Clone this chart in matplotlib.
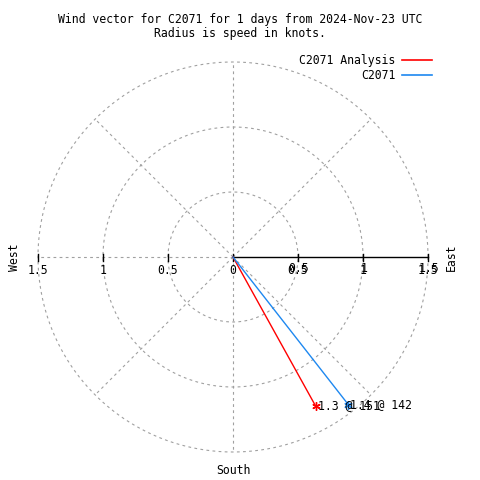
import numpy as np
import matplotlib.pyplot as plt
import matplotlib.transforms as mtransforms
from matplotlib.lines import Line2D

# wind vectors: speed (knots) and direction (deg, clockwise from north)
names = ['C2071 Analysis', 'C2071']
speeds = [1.31, 1.44]
directions = [151, 142]
colors = ['#ff0000', '#1e88f0']
rings = [0.5, 1.0, 1.5]
tick_vals = [0.5, 1.0, 1.5]

plt.rcParams['font.family'] = 'DejaVu Sans Mono'
fs = 8.3

fig = plt.figure(figsize=(4.8, 4.8), dpi=100)
ax = fig.add_axes([0, 0, 1, 1])
scale = 130.0  # pixels per knot
cx, cy = 233, 223
ax.set_xlim(-cx / scale, (480 - cx) / scale)
ax.set_ylim(-cy / scale, (480 - cy) / scale)
ax.axis('off')

grid_kw = dict(color='#a0a0a0', lw=0.8, ls=(0, (2.5, 3)))
t = np.linspace(0, 2 * np.pi, 361)
for r in rings:
    ax.plot(r * np.cos(t), r * np.sin(t), **grid_kw)
rmax = rings[-1]
for a in range(0, 360, 45):
    if a == 90:
        continue
    ar = np.deg2rad(a)
    ax.plot([0, rmax * np.sin(ar)], [0, rmax * np.cos(ar)], **grid_kw)

# east axis (solid) with ticks
ax.plot([0, rmax], [0, 0], color='black', lw=1)
tk = 3.5 / scale
ly = -14 / scale
off = mtransforms.offset_copy(ax.transData, fig=fig, x=1, y=2, units='dots')
ax.plot([0, 0], [-tk, tk], color='black', lw=1)
ax.text(0, ly, '0', ha='center', va='center', fontsize=fs)
for v in tick_vals:
    ax.plot([v, v], [-tk, tk], color='black', lw=1)
    ax.plot([-v, -v], [-tk, tk], color='black', lw=1)
    lab = f'{v:g}'
    ax.text(-v, ly, lab, ha='center', va='center', fontsize=fs)
    ax.text(v, ly, lab, ha='center', va='center', fontsize=fs)
    ax.text(v, ly, lab, ha='center', va='center', fontsize=fs, transform=off)

# compass labels
ax.text(-(cx - 14) / scale, 0, 'West', rotation=90, ha='center', va='center', fontsize=fs)
ax.text(218 / scale, 0, 'East', rotation=90, ha='center', va='center', fontsize=fs)
ax.text(0, -213 / scale, 'South', ha='center', va='center', fontsize=fs)

# wind vectors
handles = []
for name, s, d, c in zip(names, speeds, directions, colors):
    dr = np.deg2rad(d)
    x, y = s * np.sin(dr), s * np.cos(dr)
    ax.plot([0, x], [0, y], color=c, lw=1)
    ax.plot([x], [y], marker=(6, 2, 0), color=c, ms=6, mew=1)
    ax.text(x + 2 / scale, y, f'{s:.1f} @ {d}', ha='left', va='center', fontsize=fs)
    handles.append(Line2D([], [], color=c, lw=1.2))

ax.legend(handles, names, loc='upper right', bbox_to_anchor=(432 / 480, 1 - 54 / 480),
          frameon=False, markerfirst=False, fontsize=fs, handlelength=2.6,
          handletextpad=0.55, labelspacing=0.15, borderaxespad=0, borderpad=0)

fig.text(240 / 480, 1 - 20 / 480, 'Wind vector for C2071 for 1 days from 2024-Nov-23 UTC',
         ha='center', va='center', fontsize=fs)
fig.text(240 / 480, 1 - 33 / 480, 'Radius is speed in knots.', ha='center', va='center', fontsize=fs)

fig.savefig('out.png', dpi=100)
